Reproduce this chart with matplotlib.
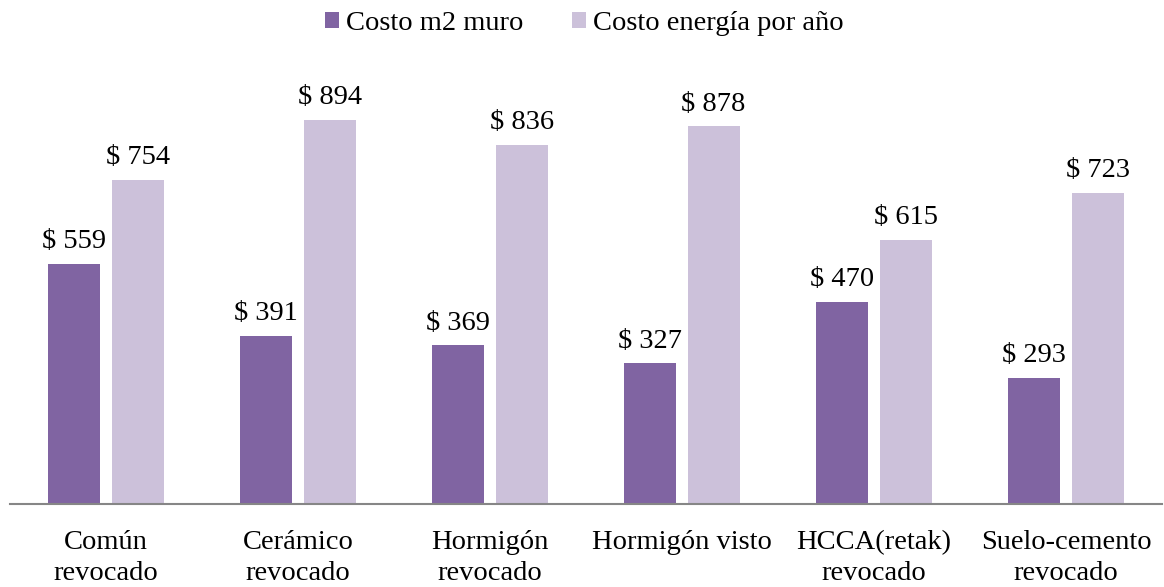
import matplotlib.pyplot as plt
import numpy as np

plt.rcParams['font.family'] = ['Liberation Serif', 'DejaVu Serif']

# data
categorias = ['Común\nrevocado', 'Cerámico\nrevocado', 'Hormigón\nrevocado',
              'Hormigón visto', 'HCCA(retak)\nrevocado', 'Suelo-cemento\nrevocado']
costo_muro = [559, 391, 369, 327, 470, 293]
costo_energia = [754, 894, 836, 878, 615, 723]

color_muro = '#8064A2'
color_energia = '#CCC1DA'

fig = plt.figure(figsize=(11.64, 5.87), dpi=100)
ax = fig.add_axes([10 / 1164, 83 / 587, 1152 / 1164, 430 / 587])

x = np.arange(len(categorias))
w = 0.27
b1 = ax.bar(x - 0.165, costo_muro, w, color=color_muro, label='Costo m2 muro')
b2 = ax.bar(x + 0.165, costo_energia, w, color=color_energia, label='Costo energía por año')

# value labels above each bar
for bars in (b1, b2):
    for bar in bars:
        h = bar.get_height()
        ax.annotate('$ %d' % h, (bar.get_x() + bar.get_width() / 2, h),
                    xytext=(0, 7), textcoords='offset points',
                    ha='center', va='bottom', fontsize=20.5)

ax.set_xlim(-0.5, len(categorias) - 0.5)
ax.set_ylim(0, 1000)
ax.set_xticks(x)
ax.set_xticklabels(categorias, fontsize=20.5, linespacing=1.3)
ax.tick_params(axis='x', length=0, pad=19)
ax.set_yticks([])
for s in ['top', 'right', 'left']:
    ax.spines[s].set_visible(False)
ax.spines['bottom'].set_color('#868686')
ax.spines['bottom'].set_linewidth(1.5)

fig.legend(loc='upper center', bbox_to_anchor=(0.502, 1.025), ncol=2, frameon=False,
           fontsize=20.5, handlelength=0.5, handleheight=0.5, handletextpad=0.25,
           columnspacing=1.7)

fig.savefig('out.png', dpi=100)
